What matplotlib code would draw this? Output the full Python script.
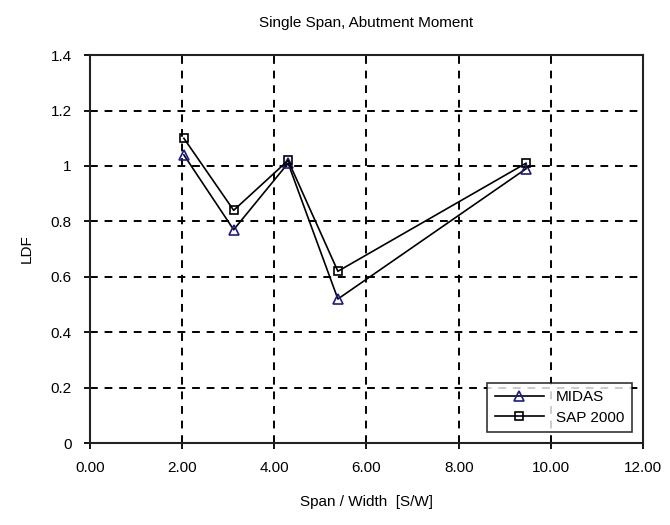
import matplotlib
matplotlib.use("Agg")
import matplotlib.pyplot as plt

plt.rcParams['font.family'] = ['Liberation Sans', 'DejaVu Sans']

span_width = [2.04, 3.12, 4.30, 5.38, 9.46]
midas = [1.04, 0.77, 1.01, 0.52, 0.99]
sap2000 = [1.10, 0.84, 1.02, 0.62, 1.01]

x_ticks = [0, 2, 4, 6, 8, 10, 12]
y_ticks = [0, 0.2, 0.4, 0.6, 0.8, 1.0, 1.2, 1.4]
y_labels = ['0', '0.2', '0.4', '0.6', '0.8', '1', '1.2', '1.4']

fig = plt.figure(figsize=(6.7, 5.25), dpi=100)
ax = fig.add_axes([0.134, 0.156, 0.826, 0.739])

ax.plot(span_width, midas, color='black', lw=1.2, marker='^', ms=7,
        mfc='none', mec='#1a1a8c', mew=1.2, label='MIDAS')
ax.plot(span_width, sap2000, color='black', lw=1.2, marker='s', ms=5.5,
        mfc='none', mec='black', mew=1.2, label='SAP 2000')

ax.set_xlim(0, 12)
ax.set_ylim(0, 1.4)
ax.set_xticks(x_ticks)
ax.set_xticklabels(['%.2f' % v for v in x_ticks])
ax.set_yticks(y_ticks)
ax.set_yticklabels(y_labels)

ax.grid(True, color='black', ls=(0, (4, 3.5)), lw=1.4)
ax.set_axisbelow(True)
for s in ax.spines.values():
    s.set_linewidth(1.5)
    s.set_color('#222222')
ax.tick_params(direction='out', length=4, width=1.3, labelsize=11, pad=9)

ax.set_title('Single Span, Abutment Moment', fontsize=11, pad=20)
ax.set_xlabel('Span / Width  [S/W]', fontsize=11, labelpad=14)
ax.set_ylabel('LDF', fontsize=11, labelpad=12)

leg = ax.legend(loc='lower right', fontsize=11, frameon=True, fancybox=False,
                edgecolor='black', borderpad=0.5, handlelength=3.2,
                labelspacing=0.4, borderaxespad=0,
                bbox_to_anchor=(0.98, 0.028))
leg.get_frame().set_linewidth(1.2)

fig.savefig('out.png', dpi=100)
